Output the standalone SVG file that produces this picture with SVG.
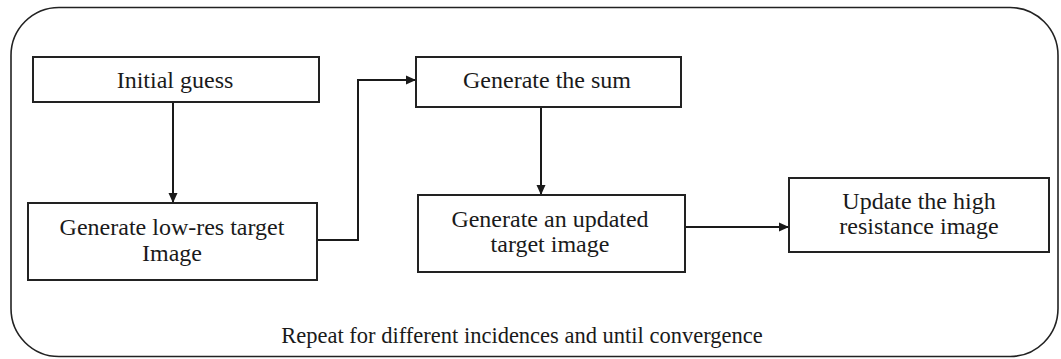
<svg xmlns="http://www.w3.org/2000/svg" width="1061" height="359" viewBox="0 0 1061 359">
<style>
.box{fill:#fff;stroke:#222;stroke-width:2}
.t{font-family:"Liberation Serif","Times New Roman",serif;font-size:24px;fill:#1a1a1a;text-anchor:middle}
.c{fill:none;stroke:#1a1a1a;stroke-width:2}
</style>
<defs>
<marker id="ah" markerWidth="10" markerHeight="10" refX="10" refY="5" orient="auto" markerUnits="userSpaceOnUse">
<path d="M0,0.5 L10,5 L0,9.5 Z" fill="#1a1a1a"/>
</marker>
</defs>
<rect x="11" y="7.5" width="1047" height="349" rx="48" ry="48" fill="#fff" stroke="#222" stroke-width="1.6"/>
<g id="connectors">
<line class="c" x1="173" y1="102" x2="173" y2="203" marker-end="url(#ah)"/>
<polyline class="c" points="317,240 358,240 358,80 416,80" marker-end="url(#ah)"/>
<line class="c" x1="541" y1="107" x2="541" y2="195" marker-end="url(#ah)"/>
<line class="c" x1="685" y1="227" x2="789" y2="227" marker-end="url(#ah)"/>
</g>
<g id="initial-guess">
<rect class="box" x="33" y="57" width="286" height="45"/>
<text class="t" x="175" y="88">Initial guess</text>
</g>
<g id="low-res">
<rect class="box" x="28" y="203" width="289" height="77"/>
<text class="t" x="172" y="235">Generate low-res target</text>
<text class="t" x="172" y="261">Image</text>
</g>
<g id="sum">
<rect class="box" x="416" y="57" width="265" height="50"/>
<text class="t" x="547" y="88">Generate the sum</text>
</g>
<g id="updated-target">
<rect class="box" x="418" y="195" width="267" height="77"/>
<text class="t" x="550" y="227">Generate an updated</text>
<text class="t" x="550" y="252">target image</text>
</g>
<g id="update-high">
<rect class="box" x="789" y="178" width="260" height="74"/>
<text class="t" x="919" y="209">Update the high</text>
<text class="t" x="919" y="234">resistance image</text>
</g>
<text id="repeat" class="t" x="522" y="343" style="font-size:22.5px">Repeat for different incidences and until convergence</text>
</svg>
